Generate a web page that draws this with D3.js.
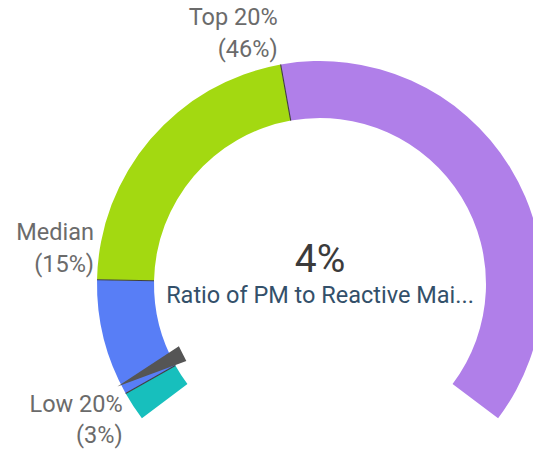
<!DOCTYPE html>
<html>
<head>
<meta charset="utf-8">
<script src="https://cdn.jsdelivr.net/npm/d3@7"></script>
<style>
  html, body { margin: 0; padding: 0; background: #fff; }
  svg { display: block; }
</style>
</head>
<body>
<svg id="chart" width="533" height="452"></svg>
<script>
// ---- data ----
const thresholdLabels = ["Low 20%", "Median", "Top 20%"];
const thresholdValues = [3, 15, 46];
const thresholdTexts = ["(3%)", "(15%)", "(46%)"];
const bandStarts = [0, 3, 15, 46];
const bandEnds = [3, 15, 46, 100];
const bandColors = ["#17bfbd", "#587ef6", "#a3d911", "#b07fe9"];
const gaugeMin = 0;
const gaugeMax = 100;
const currentValue = 4;
const valueText = "4%";
const titleText = "Ratio of PM to Reactive Mai...";

// ---- layout ----
const svg = d3.select("#chart");
const cx = 320, cy = 284, outerR = 223, innerR = 166;
const deg = Math.PI / 180;
const angle = d3.scaleLinear().domain([gaugeMin, gaugeMax]).range([-127 * deg, 127 * deg]);
const font = "Roboto, sans-serif";

const g = svg.append("g").attr("transform", `translate(${cx},${cy})`);
const arc = d3.arc().innerRadius(innerR).outerRadius(outerR);

g.selectAll("path.band")
  .data(bandStarts.map((s, i) => ({ s, e: bandEnds[i], c: bandColors[i] })))
  .join("path")
  .attr("class", "band")
  .attr("d", d => arc({ startAngle: angle(d.s), endAngle: angle(d.e) }))
  .attr("fill", d => d.c);

// separators
const pt = (v, r) => [r * Math.sin(angle(v)), -r * Math.cos(angle(v))];
g.selectAll("line.sep")
  .data(thresholdValues)
  .join("line")
  .attr("class", "sep")
  .attr("x1", d => pt(d, innerR)[0]).attr("y1", d => pt(d, innerR)[1])
  .attr("x2", d => pt(d, outerR)[0]).attr("y2", d => pt(d, outerR)[1])
  .attr("stroke", "#3f3f3f").attr("stroke-width", 1.1);

// needle
(function () {
  const a = angle(currentValue);
  const tipR = 227, baseR = 154, half = 8.3;
  const tip = [tipR * Math.sin(a), -tipR * Math.cos(a)];
  const bx = baseR * Math.sin(a), by = -baseR * Math.cos(a);
  const px = Math.cos(a) * half, py = Math.sin(a) * half;
  g.append("path")
    .attr("d", `M${tip[0]},${tip[1]}L${bx + px},${by + py}L${bx - px},${by - py}Z`)
    .attr("fill", "#555555");
})();

// threshold labels
thresholdValues.forEach((v, i) => {
  const a = angle(v);
  const p = pt(v, outerR);
  const x = p[0] - 3;
  const upper = Math.cos(a) > -0.05;
  let y1, y2;
  if (upper) {
    y2 = p[1] - 8;
    y1 = y2 - 32;
  } else {
    y1 = p[1] + 19;
    y2 = y1 + 31;
  }
  const t = g.append("text")
    .attr("text-anchor", "end")
    .attr("font-family", font)
    .attr("font-size", 23.5)
    .attr("fill", "#6b6b6b");
  t.append("tspan").attr("x", x).attr("y", y1).text(thresholdLabels[i]);
  t.append("tspan").attr("x", x).attr("y", y2).text(thresholdTexts[i]);
});

// center value
g.append("text")
  .attr("x", 0).attr("y", 272 - cy)
  .attr("text-anchor", "middle")
  .attr("font-family", font)
  .attr("font-size", 39)
  .attr("fill", "#3b3b3b")
  .text(valueText);

g.append("text")
  .attr("x", 0).attr("y", 303 - cy)
  .attr("text-anchor", "middle")
  .attr("font-family", font)
  .attr("font-size", 23.5)
  .attr("fill", "#33506a")
  .text(titleText);
</script>
</body>
</html>
